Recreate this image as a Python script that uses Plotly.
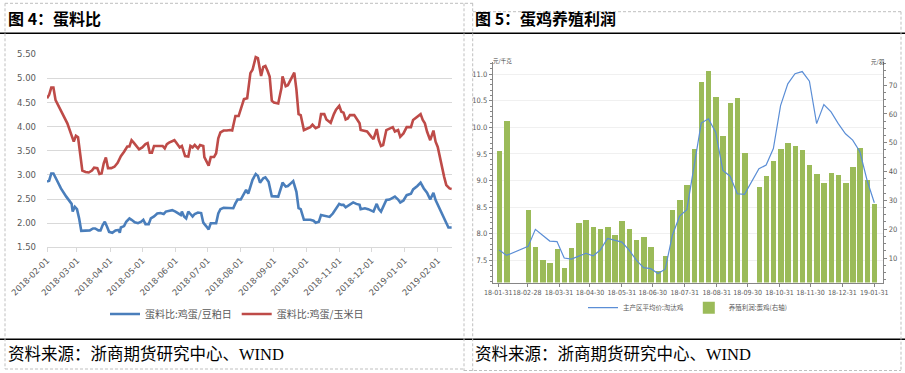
import plotly.graph_objects as go

W, H = 905, 373

# ---------------- Left chart data: 蛋料比 ----------------
corn_dates = ["2018-02-01","2018-02-03","2018-02-05","2018-02-07","2018-02-09","2018-02-13","2018-02-20","2018-02-26","2018-02-28",
              "2018-03-02","2018-03-04","2018-03-06","2018-03-09","2018-03-12","2018-03-15","2018-03-17","2018-03-20","2018-03-22",
              "2018-03-24","2018-03-26","2018-03-28","2018-03-30","2018-04-02","2018-04-05","2018-04-08","2018-04-11","2018-04-14",
              "2018-04-17","2018-04-19","2018-04-21","2018-04-23","2018-04-26","2018-04-28","2018-05-01","2018-05-04","2018-05-06",
              "2018-05-08","2018-05-10","2018-05-12","2018-05-16","2018-05-20","2018-05-22","2018-05-24","2018-05-26","2018-05-29",
              "2018-05-31","2018-06-02","2018-06-05","2018-06-07","2018-06-08","2018-06-10","2018-06-13","2018-06-15","2018-06-17",
              "2018-06-19","2018-06-22","2018-06-24","2018-06-27","2018-06-28","2018-06-30","2018-07-02","2018-07-04","2018-07-07",
              "2018-07-09","2018-07-11","2018-07-13","2018-07-16","2018-07-19","2018-07-22","2018-07-24","2018-07-27","2018-07-30",
              "2018-08-04","2018-08-07","2018-08-10","2018-08-12","2018-08-15","2018-08-17","2018-08-19","2018-08-20","2018-08-22",
              "2018-08-24","2018-08-26","2018-08-28","2018-08-30","2018-09-01","2018-09-05","2018-09-08","2018-09-09","2018-09-12",
              "2018-09-14","2018-09-17","2018-09-20","2018-09-22","2018-09-24","2018-09-26","2018-09-29","2018-10-05","2018-10-07",
              "2018-10-10","2018-10-13","2018-10-15","2018-10-18","2018-10-20","2018-10-24","2018-10-27","2018-10-29","2018-11-01",
              "2018-11-03","2018-11-05","2018-11-07","2018-11-09","2018-11-11","2018-11-15","2018-11-17","2018-11-20","2018-11-21",
              "2018-11-25","2018-11-27","2018-12-01","2018-12-03","2018-12-06","2018-12-08","2018-12-10","2018-12-12","2018-12-15",
              "2018-12-18","2018-12-21","2018-12-23","2018-12-26","2018-12-28","2018-12-31","2019-01-03","2019-01-07","2019-01-09",
              "2019-01-13","2019-01-16","2019-01-18","2019-01-20","2019-01-22","2019-01-25","2019-01-28","2019-01-30","2019-02-01",
              "2019-02-04","2019-02-07","2019-02-09","2019-02-12","2019-02-14"]
egg_corn = [4.59,4.66,4.81,4.81,4.55,4.38,4.07,3.69,3.81,
            3.78,3.45,3.09,3.06,3.05,3.09,3.15,3.14,3.02,
            3.03,3.24,3.36,3.14,3.14,3.17,3.25,3.39,3.48,
            3.59,3.59,3.72,3.67,3.57,3.53,3.57,3.64,3.66,
            3.46,3.46,3.60,3.60,3.60,3.55,3.64,3.67,3.71,
            3.72,3.66,3.57,3.60,3.53,3.39,3.38,3.60,3.57,
            3.62,3.55,3.62,3.60,3.37,3.28,3.19,3.37,3.37,
            3.45,3.76,3.88,3.92,3.92,3.93,3.92,4.22,4.22,
            4.57,4.59,5.11,5.18,5.44,5.42,5.21,5.05,5.24,
            5.26,5.16,5.04,4.54,4.50,4.48,4.80,5.04,4.84,
            4.86,4.98,5.12,4.77,4.26,4.24,3.93,3.99,4.04,
            3.97,4.00,4.26,4.26,4.15,4.08,4.26,4.35,4.43,
            4.31,4.29,4.15,4.17,4.24,4.24,4.17,4.07,3.93,
            3.92,3.90,3.79,3.74,3.95,3.72,3.60,3.62,3.93,
            3.96,3.99,3.90,3.93,3.79,3.86,3.99,3.99,4.14,
            4.22,4.26,4.14,4.07,3.90,3.72,3.92,3.69,3.58,
            3.24,2.96,2.79,2.72,2.71]

meal_dates = ["2018-02-01","2018-02-03","2018-02-05","2018-02-07","2018-02-10","2018-02-14","2018-02-19","2018-02-24","2018-02-25",
              "2018-02-27","2018-03-01","2018-03-03","2018-03-05","2018-03-09","2018-03-13","2018-03-16","2018-03-18","2018-03-21",
              "2018-03-23","2018-03-25","2018-03-27","2018-03-29","2018-03-31","2018-04-03","2018-04-06","2018-04-09","2018-04-10",
              "2018-04-11","2018-04-14","2018-04-16","2018-04-19","2018-04-21","2018-04-24","2018-04-27","2018-04-30","2018-05-02",
              "2018-05-04","2018-05-07","2018-05-09","2018-05-12","2018-05-15","2018-05-18","2018-05-21","2018-05-23","2018-05-26",
              "2018-05-29","2018-06-01","2018-06-04","2018-06-06","2018-06-07","2018-06-09","2018-06-11","2018-06-13","2018-06-15",
              "2018-06-17","2018-06-19","2018-06-22","2018-06-25","2018-06-27","2018-06-30","2018-07-02","2018-07-04","2018-07-09",
              "2018-07-11","2018-07-13","2018-07-16","2018-07-22","2018-07-25","2018-07-27","2018-07-29","2018-08-01","2018-08-04",
              "2018-08-06","2018-08-08","2018-08-10","2018-08-12","2018-08-15","2018-08-17","2018-08-19","2018-08-22","2018-08-24",
              "2018-08-27","2018-08-30","2018-09-03","2018-09-05","2018-09-08","2018-09-09","2018-09-12","2018-09-14","2018-09-17",
              "2018-09-19","2018-09-22","2018-09-24","2018-09-26","2018-09-29","2018-10-05","2018-10-08","2018-10-10","2018-10-13",
              "2018-10-15","2018-10-18","2018-10-20","2018-10-23","2018-10-26","2018-10-29","2018-11-01","2018-11-03","2018-11-05",
              "2018-11-07","2018-11-09","2018-11-12","2018-11-14","2018-11-17","2018-11-20","2018-11-21","2018-11-25","2018-11-28",
              "2018-12-01","2018-12-03","2018-12-06","2018-12-08","2018-12-10","2018-12-12","2018-12-15","2018-12-18","2018-12-21",
              "2018-12-23","2018-12-26","2018-12-28","2018-12-31","2019-01-03","2019-01-07","2019-01-09","2019-01-13","2019-01-16",
              "2019-01-19","2019-01-22","2019-01-25","2019-01-28","2019-01-30","2019-02-02","2019-02-05","2019-02-08","2019-02-11",
              "2019-02-14"]
egg_meal = [2.86,2.88,3.03,3.03,2.90,2.72,2.55,2.40,2.24,
            2.34,2.29,2.10,1.84,1.84,1.85,1.89,1.89,1.85,
            1.85,1.96,2.03,1.93,1.82,1.80,1.85,1.86,1.80,
            1.91,1.94,2.03,2.10,2.07,2.02,2.00,2.03,2.07,
            1.98,1.98,2.10,2.14,2.20,2.21,2.19,2.24,2.25,
            2.27,2.24,2.20,2.17,2.24,2.14,2.10,2.24,2.19,
            2.14,2.19,2.22,2.21,2.01,1.93,1.87,2.00,2.00,
            2.20,2.29,2.32,2.32,2.31,2.41,2.49,2.49,2.61,
            2.69,2.61,2.77,2.90,3.02,2.98,2.84,2.93,2.95,
            2.86,2.56,2.55,2.55,2.76,2.84,2.76,2.77,2.83,
            2.87,2.65,2.31,2.29,2.07,2.07,2.05,2.01,2.03,
            2.17,2.16,2.14,2.13,2.20,2.31,2.40,2.38,2.38,
            2.33,2.36,2.40,2.43,2.40,2.38,2.29,2.31,2.29,
            2.26,2.24,2.40,2.29,2.24,2.34,2.48,2.49,2.52,
            2.55,2.49,2.43,2.47,2.58,2.61,2.70,2.77,2.84,
            2.72,2.63,2.49,2.63,2.48,2.34,2.17,2.03,1.91,
            1.91]

left_tick_dates = ["2018-02-01","2018-03-01","2018-04-01","2018-05-01","2018-06-01","2018-07-01","2018-08-01",
                   "2018-09-01","2018-10-01","2018-11-01","2018-12-01","2019-01-01","2019-02-01"]

# ---------------- Right chart data: 蛋鸡养殖利润 ----------------
week_dates = ["2018-02-01","2018-02-08","2018-03-01","2018-03-08","2018-03-15","2018-03-22","2018-03-29","2018-04-05",
              "2018-04-12","2018-04-19","2018-04-26","2018-05-03","2018-05-10","2018-05-17","2018-05-24","2018-05-31",
              "2018-06-07","2018-06-14","2018-06-21","2018-06-28","2018-07-05","2018-07-12","2018-07-19","2018-07-26",
              "2018-08-02","2018-08-09","2018-08-16","2018-08-23","2018-08-30","2018-09-06","2018-09-13","2018-09-20",
              "2018-09-27","2018-10-11","2018-10-18","2018-10-25","2018-11-01","2018-11-08","2018-11-15","2018-11-22",
              "2018-11-29","2018-12-06","2018-12-13","2018-12-20","2018-12-27","2019-01-03","2019-01-10","2019-01-17",
              "2019-01-24","2019-01-31"]
profit = [47.2,57.6,26.7,13.7,9.4,8.3,13.1,6.7,
          13.5,22.1,23.2,20.9,20.0,20.7,18.1,22.7,
          20.0,16.3,17.3,13.7,5.4,10.6,26.7,30.0,
          35.5,47.7,71.2,75.0,65.7,52.3,63.7,65.4,
          46.3,34.8,38.3,43.8,47.7,49.8,48.7,47.5,
          42.2,39.0,36.0,39.4,38.8,36.0,41.5,48.1,
          36.9,28.8]
hen_price = [7.69,7.59,7.76,8.08,7.97,7.86,7.85,7.54,
             7.52,7.58,7.63,7.58,7.69,7.91,7.88,7.84,
             7.69,7.50,7.36,7.34,7.25,7.33,7.97,8.33,
             8.45,9.30,10.08,10.16,9.91,9.19,9.08,8.75,
             8.74,9.22,9.29,9.60,10.41,10.82,11.01,11.05,
             10.87,10.07,10.43,10.29,10.07,9.88,9.76,9.54,
             9.00,8.58]
right_tick_dates = ["2018-01-31","2018-02-28","2018-03-31","2018-04-30","2018-05-31","2018-06-30","2018-07-31",
                    "2018-08-31","2018-09-30","2018-10-31","2018-11-30","2018-12-31","2019-01-31"]

# ---------------- helpers (pixel -> paper) ----------------
def px(x):
    return x / W

def py(y):
    return 1 - y / H

fig = go.Figure()

fig.add_trace(go.Scatter(x=meal_dates, y=egg_meal, mode="lines", name="蛋料比:鸡蛋/豆粕日",
                         line=dict(color="#4A7EBB", width=2.6), xaxis="x", yaxis="y", legend="legend"))
fig.add_trace(go.Scatter(x=corn_dates, y=egg_corn, mode="lines", name="蛋料比:鸡蛋/玉米日",
                         line=dict(color="#BE4B48", width=2.6), xaxis="x", yaxis="y", legend="legend"))

fig.add_trace(go.Bar(x=week_dates, y=profit, name="养殖利润:蛋鸡(右轴)", marker=dict(color="#9BBB59", line=dict(width=0)),
                     width=5.3 * 86400000, xaxis="x2", yaxis="y2", legend="legend2"))
fig.add_trace(go.Scatter(x=week_dates, y=hen_price, mode="lines", name="主产区平均价:淘汰鸡",
                         line=dict(color="#5B8ED6", width=1.2), xaxis="x2", yaxis="y3", legend="legend2"))

tick_col = "#595959"
narrow = "Liberation Sans Narrow, DejaVu Sans Condensed"
fig.update_layout(
    width=W, height=H, margin=dict(l=0, r=0, t=0, b=0, autoexpand=False),
    paper_bgcolor="white", plot_bgcolor="rgba(0,0,0,0)",
    showlegend=True,
    xaxis=dict(domain=[px(47), px(452)], type="date", range=["2018-02-01", "2019-02-14 08:00"],
               tickvals=left_tick_dates, tickformat="%Y-%m-%d", tickangle=-45,
               tickfont=dict(family="DejaVu Sans", size=8.5, color=tick_col),
               showline=True, linecolor="#d9d9d9", linewidth=1, ticks="outside", ticklen=4, tickcolor="#d9d9d9",
               showgrid=False, zeroline=False, anchor="y", automargin=False),
    yaxis=dict(domain=[py(247.3), py(54.3)], range=[1.5, 5.5], dtick=0.5, tickformat=".2f",
               tickfont=dict(family="DejaVu Sans", size=8.5, color=tick_col),
               showgrid=True, gridcolor="#d9d9d9", gridwidth=1, zeroline=False, showline=False,
               ticks="", ticklabelstandoff=10, anchor="x", automargin=False),
    xaxis2=dict(domain=[px(492.7), px(883.3)], type="date", range=["2018-01-25 14:00", "2019-02-08 17:00"],
                tickvals=right_tick_dates, tickformat="%y-%m-%d", tickangle=0,
                tickfont=dict(family=narrow, size=7, color=tick_col),
                showline=True, linecolor="#868686", linewidth=1, ticks="outside", ticklen=3, tickcolor="#868686",
                showgrid=False, zeroline=False, anchor="y2", automargin=False),
    yaxis2=dict(domain=[py(282.5), py(62)], range=[1.5, 78], tickvals=[10, 20, 30, 40, 50, 60, 70],
                side="right", tickfont=dict(family=narrow, size=7.5, color=tick_col),
                showline=True, linecolor="#868686", linewidth=1, ticks="outside", ticklen=3, tickcolor="#868686",
                minor=dict(dtick=2.5, ticks="outside", ticklen=2, tickcolor="#868686", showgrid=False),
                showgrid=False, zeroline=False, anchor="x2", automargin=False),
    yaxis3=dict(range=[7.08, 11.23], tickvals=[7.5, 8.0, 8.5, 9.0, 9.5, 10.0, 10.5, 11.0], tickformat=".1f",
                overlaying="y2", side="left", anchor="x2",
                tickfont=dict(family=narrow, size=7.5, color=tick_col),
                showline=True, linecolor="#868686", linewidth=1, ticks="outside", ticklen=3, tickcolor="#868686",
                minor=dict(dtick=0.1, ticks="outside", ticklen=2, tickcolor="#868686", showgrid=False),
                showgrid=True, gridcolor="#f0f0f0", gridwidth=1, zeroline=False, automargin=False),
    legend=dict(orientation="h", x=px(237), y=py(314), xanchor="center", yanchor="middle",
                font=dict(family="Noto Sans CJK SC", size=10, color=tick_col), bgcolor="rgba(0,0,0,0)",
                itemwidth=30),
    legend2=dict(orientation="h", x=px(688), y=py(307.7), xanchor="center", yanchor="middle",
                 font=dict(family="Noto Sans CJK SC", size=6.5, color=tick_col), bgcolor="rgba(0,0,0,0)",
                 itemwidth=30, traceorder="reversed"),
    bargap=0,
)

# Titles, axis units and sources
fig.add_annotation(text="<b>图 4：蛋料比</b>", x=px(6), y=py(18), xref="paper", yref="paper",
                   xanchor="left", yanchor="middle", showarrow=False,
                   font=dict(family="Noto Sans CJK SC", size=16, color="black"))
fig.add_annotation(text="<b>图 5：蛋鸡养殖利润</b>", x=px(473), y=py(18), xref="paper", yref="paper",
                   xanchor="left", yanchor="middle", showarrow=False,
                   font=dict(family="Noto Sans CJK SC", size=16, color="black"))
for x0 in (6, 473):
    fig.add_annotation(text="资料来源：浙商期货研究中心、WIND", x=px(x0), y=py(354), xref="paper", yref="paper",
                       xanchor="left", yanchor="middle", showarrow=False,
                       font=dict(family="Liberation Serif, Noto Sans CJK SC", size=16.5, color="black"))
fig.add_annotation(text="元/千克", x=px(491), y=py(61), xref="paper", yref="paper", xanchor="left",
                   yanchor="middle", showarrow=False, font=dict(family="Noto Sans CJK SC", size=5.5, color="#404040"))
fig.add_annotation(text="元/羽", x=px(886), y=py(62), xref="paper", yref="paper", xanchor="right",
                   yanchor="middle", showarrow=False, font=dict(family="Noto Sans CJK SC", size=5.5, color="#404040"))

shapes = []
# black rules
for y in (33.3, 339.3):
    shapes.append(dict(type="line", xref="paper", yref="paper", x0=0, x1=1, y0=py(y), y1=py(y),
                       line=dict(color="black", width=1.5)))
# dashed cell borders
dash = dict(color="#bfbfbf", width=1, dash="3px,2px")
segs = [((5, 3.3), (5, 369)), ((5, 3.3), (473, 3.3)), ((464, 3.3), (464, 371)), ((472.7, 3.3), (472.7, 371)),
        ((473, 11.7), (901, 11.7)), ((901, 11.7), (901, 371)), ((5, 369), (464, 369)), ((464, 370.5), (901, 370.5))]
for (xa, ya), (xb, yb) in segs:
    shapes.append(dict(type="line", xref="paper", yref="paper", x0=px(xa), x1=px(xb), y0=py(ya), y1=py(yb), line=dash))
fig.update_layout(shapes=shapes)

fig.write_html("out.html", config={"displayModeBar": False},
               post_script="document.body.style.margin='0';document.body.style.overflow='hidden';")
